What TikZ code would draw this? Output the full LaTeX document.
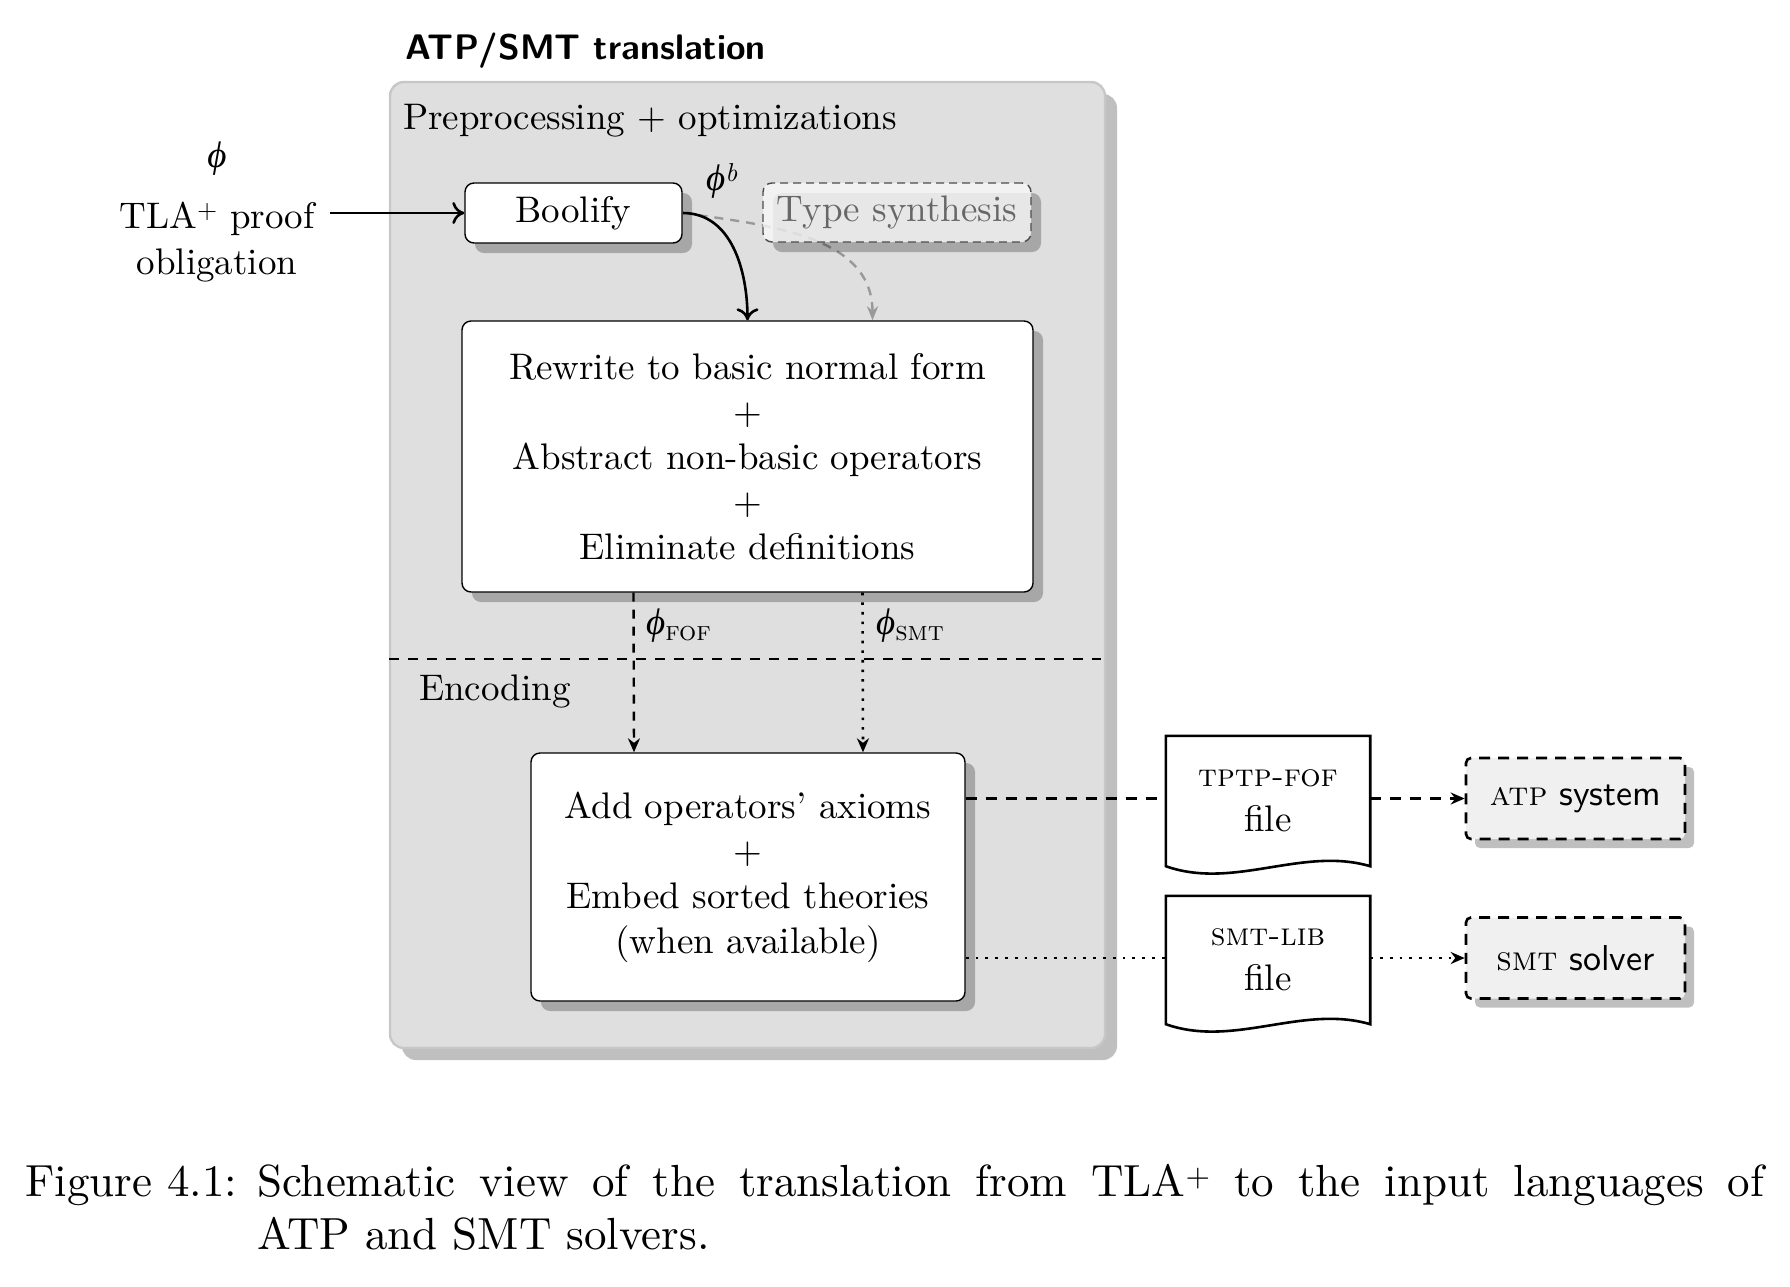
\documentclass[tikz,border=0pt]{standalone}
\usepackage{fontspec}
\setmainfont{lmroman10-regular.otf}[ItalicFont=lmroman10-italic.otf,BoldFont=lmroman10-bold.otf,SmallCapsFont=lmromancaps10-regular.otf]
\setsansfont{lmsans10-regular.otf}[BoldFont=lmsans10-bold.otf]
\newfontfamily\grk{Liberation Serif}
\usetikzlibrary{shadows,arrows.meta}
\newcommand\mainsz{\fontsize{37}{45}\selectfont}
\newcommand\capsz{\fontsize{45}{53}\selectfont}
\newcommand\ph{{\grk\itshape ϕ}}
\tikzset{
  shadowed/.style={drop shadow={shadow xshift=10pt,shadow yshift=-10pt,opacity=.25,fill=black}},
  procbox/.style={draw=black,line width=1.4pt,fill=white,rounded corners=9pt,shadowed,inner sep=0pt,align=center},
  tsbox/.style={draw=black!70,line width=1.4pt,dash pattern=on 8pt off 5pt,fill=black!3,fill opacity=.8,text=black!72,rounded corners=9pt,shadowed,inner sep=0pt},
  sysbox/.style={draw=black,line width=2.6pt,dash pattern=on 11pt off 8pt,fill=black!6,rounded corners=5pt,drop shadow={shadow xshift=9pt,shadow yshift=-9pt,opacity=.25,fill=black},inner sep=0pt,minimum width=219pt,minimum height=81pt,font=\sffamily\fontsize{36}{40}\selectfont},
  docnode/.style={inner sep=0pt,minimum width=204pt,align=center},
  docline/.style={draw=black,line width=2.6pt,line join=miter},
  container/.style={draw=black!22,line width=2.4pt,fill=black!12.5,rounded corners=14pt,drop shadow={shadow xshift=12pt,shadow yshift=-12pt,opacity=.25,fill=black},inner sep=0pt},
  solidarr/.style={line width=2.6pt,-{Computer Modern Rightarrow[length=12pt,width=22pt,line width=2.6pt]}},
  graydash/.style={draw=black!40,line width=2.4pt,dash pattern=on 9pt off 7pt,-{Stealth[length=14pt,width=11pt]}},
  fofline/.style={line width=2.4pt,dash pattern=on 9pt off 8pt,-{Stealth[length=14pt,width=12pt]}},
  smtline/.style={line width=2.6pt,dash pattern=on 2.6pt off 7pt,-{Stealth[length=14pt,width=12pt]}},
  sepline/.style={line width=1.4pt,dash pattern=on 10pt off 9pt},
  dashconn/.style={line width=2.6pt,dash pattern=on 11pt off 9pt},
  dotconn/.style={line width=2.8pt,dash pattern=on 2.8pt off 7pt},
  tipst/.style={-{Stealth[length=14pt,width=12pt]}}
}
\begin{document}
\begin{tikzpicture}[x=1pt,y=1pt,font=\mainsz]
\useasboundingbox (0,0) rectangle (1790,-1286);
% title
\node[anchor=base west,inner sep=0pt,font=\sffamily\bfseries\fontsize{35.5}{40}\selectfont] (title) at (405,-59) {ATP/SMT translation};
% container
\node[container,minimum width=715pt,minimum height=966pt] (cont) at (747.5,-565) {};
\node[anchor=base west,inner sep=0pt] (pre) at (403,-129) {Preprocessing + optimizations};
\node[anchor=base west,inner sep=0pt] (enc) at (419,-700) {Encoding};
\coordinate (sepy) at (0,-659);
\draw[sepline] (cont.west |- sepy) -- ([xshift=-5pt]cont.east |- sepy);
% input
\node[anchor=base,inner sep=0pt] (phi) at (217,-167) {\ph};
\node[anchor=base,inner ysep=0pt,inner xsep=15pt] (tla) at (217,-228) {TLA\textsuperscript{+} proof};
\node[anchor=base,inner sep=0pt] (obl) at (217,-274) {obligation};
% boxes
\node[procbox,minimum width=217pt,minimum height=60pt] (boolify) at (573.5,-213) {Boolify};
\node[procbox,minimum width=571pt,minimum height=271pt] (rewrite) at (747.5,-456.5) {Rewrite to basic normal form\\+\\Abstract non-basic operators\\+\\Eliminate definitions};
\draw[solidarr] (tla.east |- boolify.west) -- (boolify.west);
\node[inner sep=0pt] (phib) at (722,-181) {\ph\textsuperscript{\itshape b}};
\draw[graydash] (boolify.east) to[out=-8,in=90] ([xshift=125pt]rewrite.north);
\node[tsbox,minimum width=268pt,minimum height=59pt] (ts) at (897,-212.5) {Type synthesis};
\draw[solidarr] (boolify.east) to[out=0,in=90] (rewrite.north);
\node[procbox,minimum width=434pt,minimum height=248pt] (add) at (748,-877) {Add operators’ axioms\\+\\Embed sorted theories\\(when available)};
\draw[fofline] ([xshift=-114pt]rewrite.south) -- ([xshift=-114pt]add.north);
\draw[smtline] ([xshift=115pt]rewrite.south) -- ([xshift=115pt]add.north);
\node[anchor=west,inner sep=0pt] (lfof) at (646,-626) {\ph\raisebox{-6pt}{\fontsize{27}{28}\selectfont\textsc{fof}}};
\node[anchor=west,inner sep=0pt] (lsmt) at (876,-626) {\ph\raisebox{-6pt}{\fontsize{27}{28}\selectfont\textsc{smt}}};
% documents
\node[docnode,minimum height=130pt] (tptp) at (1268,-801) {{\fontsize{32}{36}\selectfont\textsc{tptp-fof}}\\file};
\draw[docline] (tptp.north west) -- (tptp.north east) -- (tptp.south east) .. controls +(-68,20) and +(68,-24) .. (tptp.south west) -- cycle;
\node[docnode,minimum height=128pt] (smtlib) at (1268,-960) {{\fontsize{32}{36}\selectfont\textsc{smt-lib}}\\file};
\draw[docline] (smtlib.north west) -- (smtlib.north east) -- (smtlib.south east) .. controls +(-68,20) and +(68,-24) .. (smtlib.south west) -- cycle;
% systems
\node[sysbox] (atp) at (1575.5,-798.5) {{\rmfamily\fontsize{34}{36}\selectfont\textsc{atp}} system};
\node[sysbox] (smt) at (1575.5,-958) {{\rmfamily\fontsize{34}{36}\selectfont\textsc{smt}} solver};
% connectors
\draw[dashconn] (add.east |- atp.west) -- (tptp.west |- atp.west);
\draw[dashconn,tipst] (tptp.east |- atp.west) -- (atp.west);
\draw[dotconn] (add.east |- smt.west) -- (smtlib.west |- smt.west);
\draw[dotconn,tipst] (smtlib.east |- smt.west) -- (smt.west);
% caption
\node[anchor=base west,inner sep=0pt,font=\capsz] (figlab) at (25,-1196) {Figure 4.1:};
\node[anchor=base west,inner sep=0pt,font=\capsz] (cap1) at (257,-1196) {\makebox[1507pt][s]{Schematic view of the translation from TLA\textsuperscript{+} to the input languages of}};
\node[anchor=base west,inner sep=0pt,font=\capsz] (cap2) at (257,-1249) {ATP and SMT solvers.};
\end{tikzpicture}
\end{document}
